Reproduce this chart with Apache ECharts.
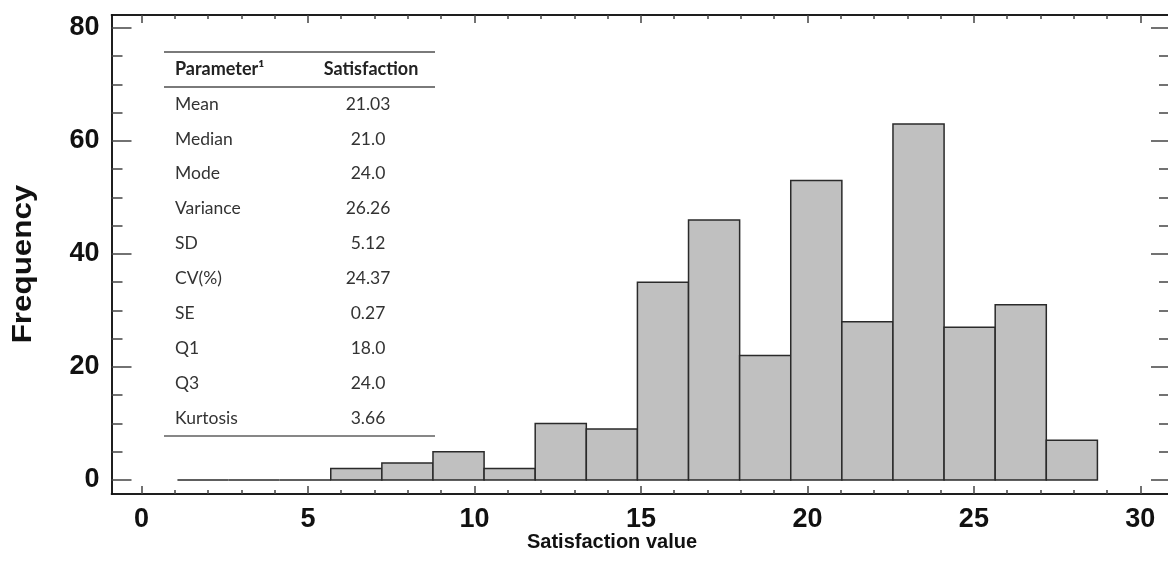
<!DOCTYPE html>
<html>
<head>
<meta charset="utf-8">
<script src="https://cdn.jsdelivr.net/npm/echarts@6/dist/echarts.min.js"></script>
<style>
html,body{margin:0;padding:0;background:#fff;}
#chart{width:1168px;height:563px;}
</style>
</head>
<body>
<div id="chart"></div>
<script>
// ---- data ----
const binEdges = [1.08, 2.615, 4.15, 5.685, 7.22, 8.755, 10.29, 11.825, 13.36, 14.895, 16.43, 17.965, 19.5, 21.035, 22.57, 24.105, 25.64, 27.175, 28.71];
const frequencies = [0, 0, 0, 2, 3, 5, 2, 10, 9, 35, 46, 22, 53, 28, 63, 27, 31, 7];
const xMajorTicks = [0, 5, 10, 15, 20, 25, 30];
const xMinorTicks = [1, 2, 3, 4, 6, 7, 8, 9, 11, 12, 13, 14, 16, 17, 18, 19, 21, 22, 23, 24, 26, 27, 28, 29];
const yMajorTicks = [0, 20, 40, 60, 80];
const yMinorTicks = [5, 10, 15, 25, 30, 35, 45, 50, 55, 65, 70, 75];
const tableHeader = ['Parameter\u00B9', 'Satisfaction'];
const paramNames = ['Mean', 'Median', 'Mode', 'Variance', 'SD', 'CV(%)', 'SE', 'Q1', 'Q3', 'Kurtosis'];
const paramValues = ['21.03', '21.0', '24.0', '26.26', '5.12', '24.37', '0.27', '18.0', '24.0', '3.66'];
const xTitle = 'Satisfaction value';
const yTitle = 'Frequency';

// ---- build ----
const binData = frequencies.map((f, i) => [binEdges[i], binEdges[i + 1], f]);

const tickFont = "'Liberation Sans Narrow','Arial Narrow','Liberation Sans',Arial,sans-serif";
const tableFont = "Lato,'Open Sans',sans-serif";
const X_MIN = -0.9, X_MAX = 30.83, Y_MIN = -2.5, Y_MAX = 82.3;

function xAx(pos, ticks, len, labels) {
  return {
    type: 'value', position: pos, min: X_MIN, max: X_MAX,
    axisLine: { show: true, onZero: false, lineStyle: { color: '#111', width: 1.5 } },
    axisTick: { show: true, inside: true, length: len, customValues: ticks, lineStyle: { color: '#444', width: 1.5 } },
    axisLabel: labels ? { show: true, customValues: ticks, margin: 12, fontFamily: tickFont, fontWeight: 'bold', fontSize: 27, color: '#111' } : { show: false },
    splitLine: { show: false }
  };
}
function yAx(pos, ticks, len, labels, line) {
  return {
    type: 'value', position: pos, min: Y_MIN, max: Y_MAX,
    axisLine: { show: line, onZero: false, lineStyle: { color: '#111', width: 1.5 } },
    axisTick: { show: true, inside: true, length: len, customValues: ticks, lineStyle: { color: '#444', width: 1.5 } },
    axisLabel: labels ? { show: true, customValues: ticks, margin: 12, fontFamily: tickFont, fontWeight: 'bold', fontSize: 27, color: '#111' } : { show: false },
    splitLine: { show: false }
  };
}

const graphics = [];
// table lines
graphics.push({ type: 'line', shape: { x1: 164, y1: 52, x2: 435, y2: 52 }, style: { stroke: '#7a7a7a', lineWidth: 2 }, z: 100 });
graphics.push({ type: 'line', shape: { x1: 164, y1: 87, x2: 435, y2: 87 }, style: { stroke: '#7a7a7a', lineWidth: 2 }, z: 100 });
graphics.push({ type: 'line', shape: { x1: 164, y1: 436, x2: 435, y2: 436 }, style: { stroke: '#111', lineWidth: 1.2 }, z: 100 });
graphics.push({ type: 'text', x: 175, y: 69, z: 100, style: { text: tableHeader[0], font: 'bold 18px ' + tableFont, fill: '#222', textAlign: 'left', textVerticalAlign: 'middle' } });
graphics.push({ type: 'text', x: 371, y: 69, z: 100, style: { text: tableHeader[1], font: 'bold 18px ' + tableFont, fill: '#222', textAlign: 'center', textVerticalAlign: 'middle' } });
paramNames.forEach((n, i) => {
  const y = 104 + i * 34.92;
  graphics.push({ type: 'text', x: 175, y: y, z: 100, style: { text: n, font: '17.5px ' + tableFont, fill: '#333', textAlign: 'left', textVerticalAlign: 'middle' } });
  graphics.push({ type: 'text', x: 368, y: y, z: 100, style: { text: paramValues[i], font: '17.5px ' + tableFont, fill: '#333', textAlign: 'center', textVerticalAlign: 'middle' } });
});
// axis titles
graphics.push({ type: 'text', x: 612, y: 542, z: 100, style: { text: xTitle, font: "bold 20px 'Liberation Sans',Arial,sans-serif", fill: '#111', textAlign: 'center', textVerticalAlign: 'middle' } });
graphics.push({ type: 'text', x: 23, y: 264, rotation: Math.PI / 2, scaleX: 1.12, z: 100, style: { text: yTitle, font: "bold 28px 'Liberation Sans',Arial,sans-serif", fill: '#111', textAlign: 'center', textVerticalAlign: 'middle' } });

const option = {
  animation: false,
  backgroundColor: '#fff',
  grid: { left: 111.5, top: 15, right: 0, bottom: 69, containLabel: false },
  xAxis: [
    xAx('bottom', xMajorTicks, 8, true),
    xAx('bottom', xMinorTicks, 4, false),
    xAx('top', xMajorTicks, 8, false),
    xAx('top', xMinorTicks, 4, false)
  ],
  yAxis: [
    yAx('left', yMajorTicks, 20, true, true),
    yAx('left', yMinorTicks, 11, false, true),
    yAx('right', yMajorTicks, 17, false, false),
    yAx('right', yMinorTicks, 9, false, false)
  ],
  graphic: graphics,
  series: [{
    type: 'custom',
    xAxisIndex: 0, yAxisIndex: 0,
    data: binData,
    renderItem: function (params, api) {
      const p0 = api.coord([api.value(0), 0]);
      const p1 = api.coord([api.value(1), api.value(2)]);
      return {
        type: 'rect',
        shape: { x: p0[0], y: p1[1], width: p1[0] - p0[0], height: p0[1] - p1[1] },
        style: { fill: '#c0c0c0', stroke: '#2a2a2a', lineWidth: 1.5 }
      };
    }
  }]
};

const chart = echarts.init(document.getElementById('chart'), null, { renderer: 'canvas' });
chart.setOption(option);
</script>
</body>
</html>
